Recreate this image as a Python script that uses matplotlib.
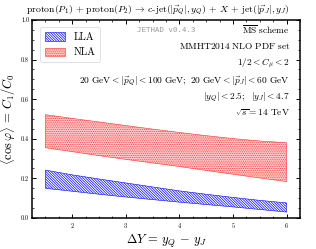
import matplotlib
matplotlib.use("Agg")
import matplotlib.pyplot as plt
from matplotlib.ticker import MultipleLocator
import numpy as np

plt.rcParams['mathtext.fontset'] = 'cm'
plt.rcParams['font.family'] = 'serif'
plt.rcParams['font.serif'] = ['cmr10', 'DejaVu Serif']
plt.rcParams['axes.formatter.use_mathtext'] = True
plt.rcParams['hatch.linewidth'] = 0.5

dY = [1.5, 2.0, 2.5, 3.0, 3.5, 4.0, 4.5, 5.0, 5.5, 6.0]
lla_low = [0.150, 0.135, 0.120, 0.106, 0.093, 0.080, 0.068, 0.056, 0.043, 0.030]
lla_high = [0.242, 0.218, 0.197, 0.177, 0.157, 0.137, 0.120, 0.104, 0.089, 0.076]
nla_low = [0.355, 0.335, 0.315, 0.296, 0.278, 0.260, 0.240, 0.221, 0.202, 0.184]
nla_high = [0.522, 0.503, 0.485, 0.467, 0.449, 0.432, 0.416, 0.401, 0.389, 0.380]

fig = plt.figure(figsize=(3.16, 2.49), dpi=100)
ax = fig.add_axes([32/316, 1 - 218/249, 268/316, 198/249])

ax.fill_between(dY, lla_low, lla_high, facecolor='white', edgecolor='blue',
                hatch='\\' * 13, linewidth=0.4, label='LLA')
ax.fill_between(dY, nla_low, nla_high, facecolor='#ffd0d0', edgecolor='#ff3030',
                hatch='.' * 9, linewidth=0.4, label='NLA')

ax.set_xlim(1.25, 6.25)
ax.set_ylim(0.0, 1.0)
ax.xaxis.set_major_locator(MultipleLocator(1))
ax.xaxis.set_minor_locator(MultipleLocator(0.25))
ax.yaxis.set_major_locator(MultipleLocator(0.2))
ax.yaxis.set_minor_locator(MultipleLocator(0.05))
ax.tick_params(which='both', direction='in', top=True, right=True, labelsize=4.5, pad=2)
ax.tick_params(which='major', length=3, width=0.7)
ax.tick_params(which='minor', length=1.5, width=0.5)
ax.yaxis.set_major_formatter(matplotlib.ticker.FormatStrFormatter('%.1f'))
for s in ax.spines.values():
    s.set_linewidth(1.1)

ax.set_xlabel(r'$\Delta Y\, =\, y_Q\, -\, y_J$', fontsize=9, labelpad=2)
ax.set_ylabel(r'$\langle \cos \varphi \rangle\, =\, C_1/C_0$', fontsize=9, labelpad=2)

fig.text(0.5, 1 - 10/249,
         r'$\mathrm{proton}(P_1)\,+\,\mathrm{proton}(P_2)\,\to\,c\text{-}\mathrm{jet}(|\vec{p}_Q|, y_Q)\,+\,X\,+\,\mathrm{jet}(|\vec{p}_J|, y_J)$',
         ha='center', va='center', fontsize=7)

tx = (290 - 32) / 268
fs = 6.8
def ypos(p):
    return (218 - p) / 198

ax.text((166 - 32) / 268, ypos(30), 'JETHAD v0.4.3', transform=ax.transAxes, ha='center', va='center',
        fontsize=5.3, family='DejaVu Sans Mono', color='#999999')
lines = [
    (30, r'$\overline{\mathrm{MS}}\ \mathrm{scheme}$'),
    (46, r'$\mathrm{MMHT2014\ NLO\ PDF\ set}$'),
    (63, r'$1/2 < C_{\mu} < 2$'),
    (81, r'$20\ \mathrm{GeV} < |\vec{p}_Q| < 100\ \mathrm{GeV};\ 20\ \mathrm{GeV} < |\vec{p}_J| < 60\ \mathrm{GeV}$'),
    (97, r'$|y_Q| < 2.5;\ \ |y_J| < 4.7$'),
    (113, r'$\sqrt{s} = 14\ \mathrm{TeV}$'),
]
for yp, t in lines:
    ax.text(tx, ypos(yp), t, transform=ax.transAxes, ha='right', va='center', fontsize=fs)

leg = ax.legend(loc='upper left', fontsize=7.5, frameon=True, fancybox=True,
                handlelength=2.0, handleheight=0.9, borderpad=0.45, labelspacing=0.55,
                handletextpad=0.8, bbox_to_anchor=(0.01, 0.99))
leg.get_frame().set_linewidth(0.5)
leg.get_frame().set_edgecolor('#cccccc')

fig.savefig('out.png', dpi=100)
